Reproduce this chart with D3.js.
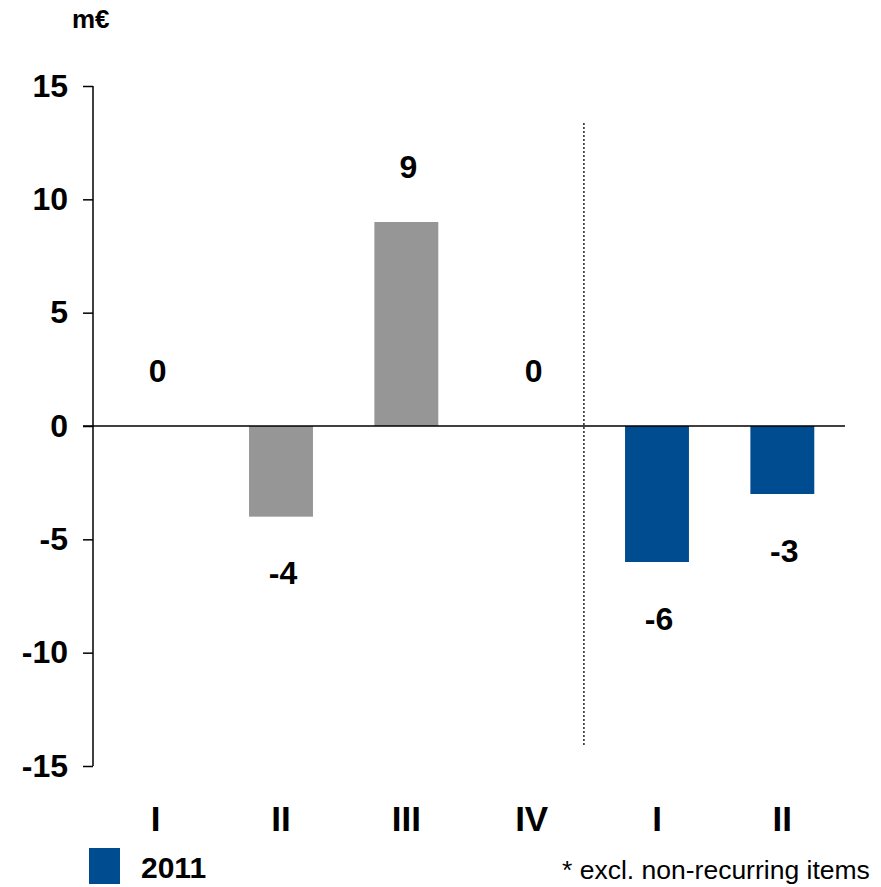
<!DOCTYPE html>
<html>
<head>
<meta charset="utf-8">
<script src="https://cdn.jsdelivr.net/npm/d3@7"></script>
<style>
  body { margin: 0; background: #fff; }
  text { font-family: "Liberation Sans", Arial, sans-serif; }
</style>
</head>
<body>
<script>
// quarters 2010 (grey) and 2011 (blue)
var quarters = ["I", "II", "III", "IV", "I ", "II "]
var values = [0, -4, 9, 0, -6, -3]
var years = ["2010", "2010", "2010", "2010", "2011", "2011"]
var yTicks = [15, 10, 5, 0, -5, -10, -15]

var colors = { "2010": "#969696", "2011": "#004c91" }

var svg = d3.select("body")
  .append("svg")
  .attr("width", 881)
  .attr("height", 887)

var x = d3.scaleBand()
  .domain(quarters)
  .range([93, 845])
  .paddingInner(0.49)
  .paddingOuter(0.245)

var y = d3.scaleLinear()
  .domain([-15, 15])
  .range([766, 86])

// y axis
var yAxis = svg.append("g")
  .attr("transform", "translate(93,0)")
  .call(d3.axisLeft(y).tickValues(yTicks).tickSize(10).tickPadding(15)
    .tickFormat(function(d) { return String(d) }))

yAxis.select(".domain").attr("stroke", "#000").attr("stroke-width", 1.5)
  .attr("d", "M0," + y(15) + "V" + y(-15))
yAxis.selectAll(".tick line").attr("stroke", "#000").attr("stroke-width", 1.5)
yAxis.selectAll(".tick text")
  .attr("font-size", "32px")
  .attr("font-weight", "bold")
  .attr("fill", "#000")
  .attr("font-family", "Liberation Sans, Arial, sans-serif")

// bars
svg.selectAll("rect.bar")
  .data(values)
  .enter()
  .append("rect")
  .attr("class", "bar")
  .attr("x", function(d, i) { return x(quarters[i]) })
  .attr("width", x.bandwidth())
  .attr("y", function(d) { return y(Math.max(0, d)) })
  .attr("height", function(d) { return Math.abs(y(d) - y(0)) })
  .attr("fill", function(d, i) { return colors[years[i]] })

// zero line
svg.append("line")
  .attr("x1", 83).attr("x2", 845)
  .attr("y1", y(0)).attr("y2", y(0))
  .attr("stroke", "#000")
  .attr("stroke-width", 1.5)

// separator between years
var gap = x.step() - x.bandwidth()
var sepX = x("IV") + x.bandwidth() + gap * 0.33
svg.append("line")
  .attr("x1", sepX).attr("x2", sepX)
  .attr("y1", 123).attr("y2", 745)
  .attr("stroke", "#222")
  .attr("stroke-width", 1.5)
  .attr("stroke-dasharray", "2,2")

// value labels
svg.selectAll("text.val")
  .data(values)
  .enter()
  .append("text")
  .attr("class", "val")
  .text(function(d) { return d })
  .attr("x", function(d, i) { return x(quarters[i]) + x.bandwidth() / 2 + 2 })
  .attr("y", function(d) { return d >= 0 ? y(d) - 56 : y(d) + 56 })
  .attr("dy", "0.36em")
  .attr("text-anchor", "middle")
  .attr("font-size", "32px")
  .attr("font-weight", "bold")

// category labels
svg.selectAll("text.cat")
  .data(quarters)
  .enter()
  .append("text")
  .attr("class", "cat")
  .text(function(d) { return d.trim() })
  .attr("x", function(d) { return x(d) + x.bandwidth() / 2 })
  .attr("y", 831)
  .attr("text-anchor", "middle")
  .attr("font-size", "35px")
  .attr("font-weight", "bold")

// unit
svg.append("text")
  .text("m€")
  .attr("x", 72).attr("y", 28)
  .attr("font-size", "26px")
  .attr("font-weight", "bold")

// legend
svg.append("rect")
  .attr("x", 89).attr("y", 848)
  .attr("width", 31).attr("height", 36)
  .attr("fill", colors["2011"])
svg.append("text")
  .text("2011")
  .attr("x", 141).attr("y", 878)
  .attr("font-size", "30px")
  .attr("font-weight", "bold")

// footnote
svg.append("text")
  .text("* excl. non-recurring items")
  .attr("x", 562).attr("y", 879)
  .attr("font-size", "26.5px")
</script>
</body>
</html>
